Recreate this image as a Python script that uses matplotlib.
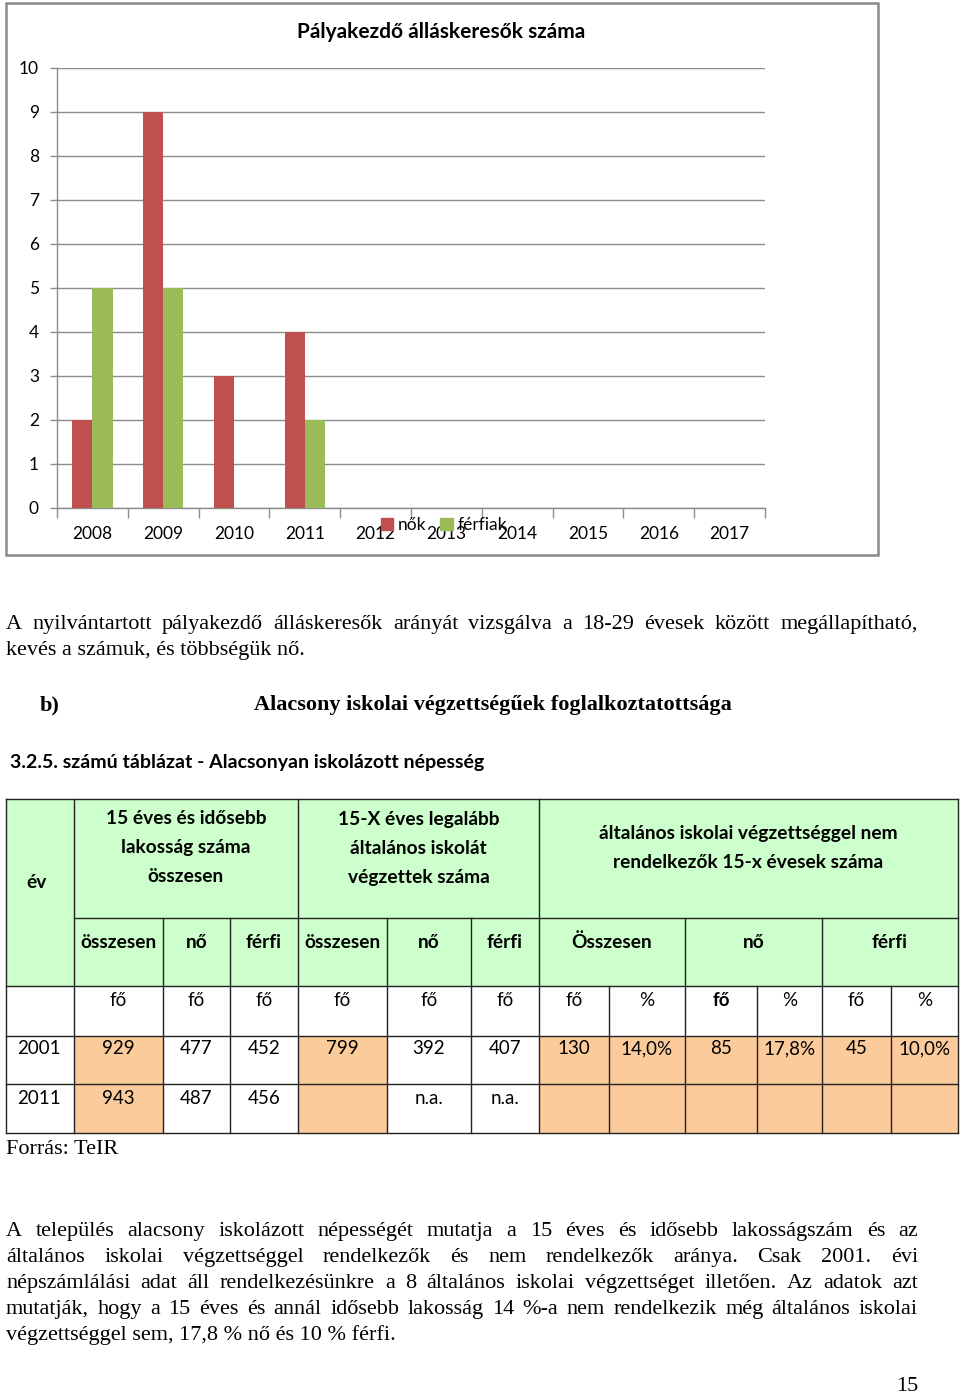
import matplotlib.pyplot as plt
from matplotlib.patches import Rectangle
from matplotlib.lines import Line2D

# ---- chart data ----
years = ["2008", "2009", "2010", "2011", "2012", "2013", "2014", "2015", "2016", "2017"]
noek = [2, 9, 3, 4, 0, 0, 0, 0, 0, 0]
ferfiak = [5, 5, 0, 2, 0, 0, 0, 0, 0, 0]
chart_title = "Pályakezdő álláskeresők száma"

# ---- table data ----
group_heads = [
    ["15 éves és idősebb", "lakosság száma", "összesen"],
    ["15-X éves legalább", "általános iskolát", "végzettek száma"],
    ["általános iskolai végzettséggel nem", "rendelkezők 15-x évesek száma"],
]
sub_heads = ["összesen", "nő", "férfi", "összesen", "nő", "férfi", "Összesen", "nő", "férfi"]
units = ["fő", "fő", "fő", "fő", "fő", "fő", "fő", "%", "fő", "%", "fő", "%"]
row_years = ["2001", "2011"]
row_2001 = ["929", "477", "452", "799", "392", "407", "130", "14,0%", "85", "17,8%", "45", "10,0%"]
row_2011 = ["943", "487", "456", "", "n.a.", "n.a.", "", "", "", "", "", ""]
orange_cols = [0, 3, 6, 7, 8, 9, 10, 11]

para1 = [
    "A nyilvántartott pályakezdő álláskeresők arányát vizsgálva a 18-29 évesek között megállapítható,",
    "kevés a számuk, és többségük nő.",
]
para2 = [
    "A település alacsony iskolázott népességét mutatja a 15 éves és idősebb lakosságszám és az",
    "általános iskolai végzettséggel rendelkezők és nem rendelkezők aránya. Csak 2001. évi",
    "népszámlálási adat áll rendelkezésünkre a 8 általános iskolai végzettséget illetően. Az adatok azt",
    "mutatják, hogy a 15 éves és annál idősebb lakosság 14 %-a nem rendelkezik még általános iskolai",
    "végzettséggel sem, 17,8 % nő és 10 % férfi.",
]

W, H = 960, 1395
SANS = ["Lato", "DejaVu Sans"]
SERIF = ["Liberation Serif", "DejaVu Serif"]
RED = "#C0504D"
GREEN = "#9BBB59"
GRID = "#8C8C8C"
BODY = 16

fig = plt.figure(figsize=(W / 100, H / 100), dpi=100)
page = fig.add_axes([0, 0, 1, 1])
page.set_xlim(0, W)
page.set_ylim(H, 0)
page.axis("off")
renderer = fig.canvas.get_renderer()


def text_line(line, y, x0=6, x1=918, justify=True, **kw):
    if not justify:
        page.text(x0, y, line, va="baseline", ha="left", **kw)
        return
    words = line.split()
    objs = [page.text(0, y, w, va="baseline", ha="left", **kw) for w in words]
    widths = [o.get_window_extent(renderer).width for o in objs]
    gap = (x1 - x0 - sum(widths)) / (len(words) - 1)
    x = x0
    for o, w in zip(objs, widths):
        o.set_x(x)
        x += w + gap


# ---- chart frame ----
page.add_patch(Rectangle((6, 3), 872, 552, fill=False, ec="#8A8A8A", lw=1.8))

ax = fig.add_axes([57 / W, 1 - 508 / H, (765 - 57) / W, (508 - 68) / H])
x = range(len(years))
bw = 1 / 3.5
ax.bar([i - bw / 2 for i in x], noek, width=bw, color=RED, zorder=3)
ax.bar([i + bw / 2 for i in x], ferfiak, width=bw, color=GREEN, zorder=3)
ax.set_xlim(-0.5, len(years) - 0.5)
ax.set_ylim(0, 10)
ax.set_yticks(range(0, 11))
ax.yaxis.grid(True, color=GRID, lw=1.0, zorder=0)
ax.set_xticks(list(x))
ax.set_xticklabels(years, fontsize=12.5, family=SANS)
ax.set_xticks([i - 0.5 for i in range(len(years) + 1)], minor=True)
ax.tick_params(axis="x", which="major", length=0, pad=13)
ax.tick_params(axis="x", which="minor", length=7, color=GRID, width=1)
ax.tick_params(axis="y", length=5, color=GRID, width=1, pad=8, labelsize=12.5)
for lab in ax.get_yticklabels():
    lab.set_family(SANS)
for s in ["top", "right"]:
    ax.spines[s].set_visible(False)
for s in ["left", "bottom"]:
    ax.spines[s].set_color(GRID)
    ax.spines[s].set_linewidth(1.0)
ax.set_facecolor("none")

page.text(441, 32, chart_title, ha="center", va="center", fontsize=15,
          fontweight="bold", family=SANS)

# legend
leg_handles = [Rectangle((0, 0), 1, 1, color=RED), Rectangle((0, 0), 1, 1, color=GREEN)]
fig.legend(leg_handles, ["nők", "férfiak"], loc="center",
           bbox_to_anchor=(444 / W, 1 - 525 / H), ncol=2, frameon=False,
           handlelength=0.7, handleheight=0.7, handletextpad=0.3,
           columnspacing=0.8, prop={"family": SANS, "size": 12.5})

# ---- body text ----
text_line(para1[0], 629, fontsize=BODY, family=SERIF)
text_line(para1[1], 655, justify=False, fontsize=BODY, family=SERIF)

page.text(40, 710, "b)", va="baseline", fontsize=BODY, fontweight="bold", family=SERIF)
page.text(493, 710, "Alacsony iskolai végzettségűek foglalkoztatottsága", ha="center",
          va="baseline", fontsize=BODY, fontweight="bold", family=SERIF)
page.text(10, 768, "3.2.5. számú táblázat - Alacsonyan iskolázott népesség", va="baseline",
          fontsize=14, fontweight="bold", family=SANS)

# ---- table ----
cols = [6, 74, 163, 230, 298, 387, 471, 539, 609, 685, 757, 822, 891, 958]
r_top, r_h2, r_units, r_2001, r_2011, r_bot = 799, 918, 986, 1036, 1084, 1133
HEAD_BG = "#CCFFCC"
ORANGE = "#FBCB9B"
LC = "#222222"

page.add_patch(Rectangle((cols[0], r_top), cols[-1] - cols[0], r_units - r_top,
                         color=HEAD_BG, lw=0))
for r0, r1 in [(r_2001, r_2011), (r_2011, r_bot)]:
    for c in orange_cols:
        page.add_patch(Rectangle((cols[c + 1], r0), cols[c + 2] - cols[c + 1], r1 - r0,
                                 color=ORANGE, lw=0))


def hline(y, x0, x1):
    page.add_line(Line2D([x0, x1], [y, y], color=LC, lw=1))


def vline(xv, y0, y1):
    page.add_line(Line2D([xv, xv], [y0, y1], color=LC, lw=1))


for yv in [r_top, r_units, r_2001, r_2011, r_bot]:
    hline(yv, cols[0], cols[-1])
hline(r_h2, cols[1], cols[-1])
for xv in [cols[0], cols[1], cols[4], cols[7], cols[-1]]:
    vline(xv, r_top, r_bot)
for xv in [cols[2], cols[3], cols[5], cols[6], cols[9], cols[11]]:
    vline(xv, r_h2, r_bot)
for xv in [cols[8], cols[10], cols[12]]:
    vline(xv, r_units, r_bot)

hkw = dict(ha="center", va="center", fontsize=13.8, fontweight="bold", family=SANS)
page.text(37, 882, "év", **hkw)
group_spans = [(cols[1], cols[4]), (cols[4], cols[7]), (cols[7], cols[-1])]
group_y0 = [819, 819, 834]
for lines, (a, b), y0 in zip(group_heads, group_spans, group_y0):
    for k, ln in enumerate(lines):
        page.text((a + b) / 2, y0 + 29 * k, ln, **hkw)

sub_edges = cols[1:8] + [cols[9], cols[11], cols[13]]
for k, s in enumerate(sub_heads):
    page.text((sub_edges[k] + sub_edges[k + 1]) / 2, 942, s, **hkw)

dkw = dict(ha="center", va="center", fontsize=13.5, family=SANS)
for k, u in enumerate(units):
    cx = (cols[k + 1] + cols[k + 2]) / 2
    page.text(cx, 1001, u, fontweight="bold" if k == 8 else "normal", **dkw)
for yv, yr, vals in [(1049, row_years[0], row_2001), (1098, row_years[1], row_2011)]:
    page.text(39, yv, yr, **dkw)
    for k, v in enumerate(vals):
        page.text((cols[k + 1] + cols[k + 2]) / 2, yv, v, **dkw)

page.text(6, 1154, "Forrás: TeIR", va="baseline", fontsize=BODY, family=SERIF)

for k, ln in enumerate(para2):
    text_line(ln, 1236 + 26 * k, justify=(k < len(para2) - 1), fontsize=BODY, family=SERIF)

page.text(918, 1391, "15", ha="right", va="baseline", fontsize=BODY, family=SERIF)

fig.savefig("out.png", dpi=100)
